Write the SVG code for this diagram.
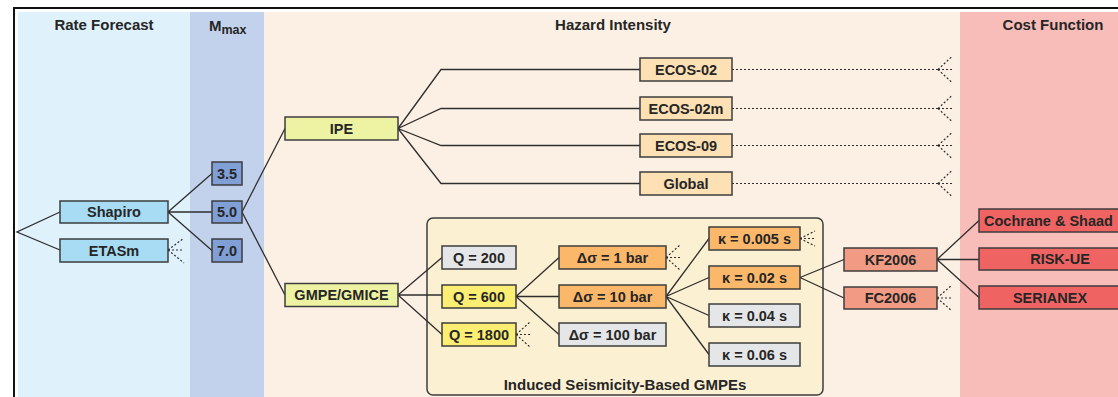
<svg xmlns="http://www.w3.org/2000/svg" width="1118" height="397" viewBox="0 0 1118 397">
<style>
text{font-family:"Liberation Sans",Arial,sans-serif;font-weight:bold;fill:#262626;font-size:14.5px;text-anchor:middle}
.h{font-size:15px}
.n rect{stroke:#3d3d3d;stroke-width:1.5}
.rf{fill:#a8dcf4}.mx{fill:#7f9fd6}.ip{fill:#eef3a3}.ec{fill:#fde1b5}.gy{fill:#e5e6e8}.qy{fill:#fcee72}.or{fill:#fbb86b}.sa{fill:#f29b84}.rd{fill:#ef6463}
.c path{fill:none;stroke:#2e2e2e;stroke-width:1.3}
.c .d{stroke-dasharray:2 2;stroke-width:1.2}
</style>
<rect x="0" y="0" width="1118" height="397" fill="#ffffff"/>
<g id="bands">
<rect x="18" y="12" width="172" height="385" fill="#dff1fa"/>
<rect x="190" y="12" width="74" height="385" fill="#c3d2ec"/>
<rect x="264" y="12" width="696" height="385" fill="#fcf0e4"/>
<rect x="960" y="12" width="158" height="385" fill="#f8bdb9"/>
<path d="M14,397 V8 H1118" fill="none" stroke="#111" stroke-width="2"/>
</g>
<g id="headings">
<text class="h" x="104" y="30">Rate Forecast</text>
<text class="h" x="209" y="31" style="text-anchor:start">M<tspan font-size="12.5" dy="3">max</tspan></text>
<text class="h" x="613" y="30">Hazard Intensity</text>
<text class="h" x="1053" y="30">Cost Function</text>
</g>
<g id="induced-group">
<rect x="427" y="218" width="396" height="177" rx="6" fill="#fcf0d2" stroke="#3d3d3d" stroke-width="1.5"/>
<text class="h" x="625" y="390">Induced Seismicity-Based GMPEs</text>
</g>
<g class="c" id="connectors">
<path d="M60,212 L17,232 L60,250"/>
<path d="M168,212 L212,173.5 M168,212 H212 M168,212 L212,250.5"/>
<path class="d" d="M168,250 L184,238 M168,250 H184 M168,250 L184,263"/>
<path d="M242,212 L285,128.5 M242,212 L285,295"/>
<path d="M398,128.5 L441,69.5 H640 M398,128.5 L441,108.5 H640 M398,128.5 L441,145.5 H640 M398,128.5 L441,183.5 H640"/>
<path class="d" d="M732,69.5 H938 M732,108.5 H938 M732,145.5 H938 M732,183.5 H938"/>
<path class="d" d="M938,69.5 L952,56.5 M938,69.5 H952 M938,69.5 L952,82.5 M938,108.5 L952,95.5 M938,108.5 H952 M938,108.5 L952,121.5 M938,145.5 L952,132.5 M938,145.5 H952 M938,145.5 L952,158.5 M938,183.5 L952,170.5 M938,183.5 H952 M938,183.5 L952,196.5"/>
<path d="M398,295 L442,257.5 M398,295 H442 M398,295 L442,334.5"/>
<path class="d" d="M516,334.5 L530,322 M516,334.5 H530 M516,334.5 L530,347"/>
<path d="M516,296.5 L559,257.5 M516,296.5 H559 M516,296.5 L559,334.5"/>
<path class="d" d="M666,257.5 L680,245 M666,257.5 H680 M666,257.5 L680,270"/>
<path d="M666,296.5 L709,238.5 M666,296.5 L709,277.5 M666,296.5 L709,315.5 M666,296.5 L709,354.5"/>
<path class="d" d="M800,238.5 L815,231 M800,238.5 H815 M800,238.5 L815,246"/>
<path d="M800,277.5 L844,259.5 M800,277.5 L844,298"/>
<path class="d" d="M937,298 L952,285 M937,298 H952 M937,298 L952,311"/>
<path d="M937,259.5 L979,220.5 M937,259.5 H979 M937,259.5 L979,297.5"/>
</g>
<g class="n" id="n-shapiro"><rect class="rf" x="60" y="201" width="108" height="22"/><text x="114" y="217">Shapiro</text></g>
<g class="n" id="n-etasm"><rect class="rf" x="60" y="239" width="108" height="23"/><text x="114" y="255.5">ETASm</text></g>
<g class="n" id="n-m35"><rect class="mx" x="212" y="162" width="30" height="23"/><text x="227" y="178.5">3.5</text></g>
<g class="n" id="n-m50"><rect class="mx" x="212" y="201" width="30" height="22"/><text x="227" y="217">5.0</text></g>
<g class="n" id="n-m70"><rect class="mx" x="212" y="239" width="30" height="23"/><text x="227" y="255.5">7.0</text></g>
<g class="n" id="n-ipe"><rect class="ip" x="285" y="117" width="113" height="23"/><text x="341.5" y="133.5">IPE</text></g>
<g class="n" id="n-gmpe"><rect class="ip" x="285" y="283.5" width="113" height="23"/><text x="341.5" y="300">GMPE/GMICE</text></g>
<g class="n" id="n-ecos02"><rect class="ec" x="640" y="58" width="92" height="23"/><text x="686" y="74.5">ECOS-02</text></g>
<g class="n" id="n-ecos02m"><rect class="ec" x="640" y="97" width="92" height="23"/><text x="686" y="113.5">ECOS-02m</text></g>
<g class="n" id="n-ecos09"><rect class="ec" x="640" y="134" width="92" height="23"/><text x="686" y="150.5">ECOS-09</text></g>
<g class="n" id="n-global"><rect class="ec" x="640" y="172" width="92" height="23"/><text x="686" y="188.5">Global</text></g>
<g class="n" id="n-q200"><rect class="gy" x="442" y="246" width="74" height="23"/><text x="479" y="262.5">Q = 200</text></g>
<g class="n" id="n-q600"><rect class="qy" x="442" y="285" width="74" height="23"/><text x="479" y="301.5">Q = 600</text></g>
<g class="n" id="n-q1800"><rect class="qy" x="442" y="323" width="74" height="23"/><text x="479" y="339.5">Q = 1800</text></g>
<g class="n" id="n-ds1"><rect class="or" x="559" y="246" width="107" height="23"/><text x="612.5" y="262.5">Δσ = 1 bar</text></g>
<g class="n" id="n-ds10"><rect class="or" x="559" y="285" width="107" height="23"/><text x="612.5" y="301.5">Δσ = 10 bar</text></g>
<g class="n" id="n-ds100"><rect class="gy" x="559" y="323" width="107" height="23"/><text x="612.5" y="339.5">Δσ = 100 bar</text></g>
<g class="n" id="n-k005"><rect class="or" x="709" y="227" width="91" height="23"/><text x="754.5" y="243.5">κ = 0.005 s</text></g>
<g class="n" id="n-k02"><rect class="or" x="709" y="266" width="91" height="23"/><text x="754.5" y="282.5">κ = 0.02 s</text></g>
<g class="n" id="n-k04"><rect class="gy" x="709" y="304" width="91" height="23"/><text x="754.5" y="320.5">κ = 0.04 s</text></g>
<g class="n" id="n-k06"><rect class="gy" x="709" y="343" width="91" height="23"/><text x="754.5" y="359.5">κ = 0.06 s</text></g>
<g class="n" id="n-kf2006"><rect class="sa" x="844" y="248" width="93" height="23"/><text x="890.5" y="264.5">KF2006</text></g>
<g class="n" id="n-fc2006"><rect class="sa" x="844" y="287" width="93" height="22"/><text x="890.5" y="303">FC2006</text></g>
<g class="n" id="n-cochrane"><rect class="rd" x="979" y="209" width="160" height="23"/><text x="984" y="225.5" style="text-anchor:start">Cochrane &amp; Shaad</text></g>
<g class="n" id="n-riskue"><rect class="rd" x="979" y="248" width="160" height="22"/><text x="1060" y="264">RISK-UE</text></g>
<g class="n" id="n-serianex"><rect class="rd" x="979" y="286" width="160" height="23"/><text x="1050" y="302.5">SERIANEX</text></g>
</svg>
